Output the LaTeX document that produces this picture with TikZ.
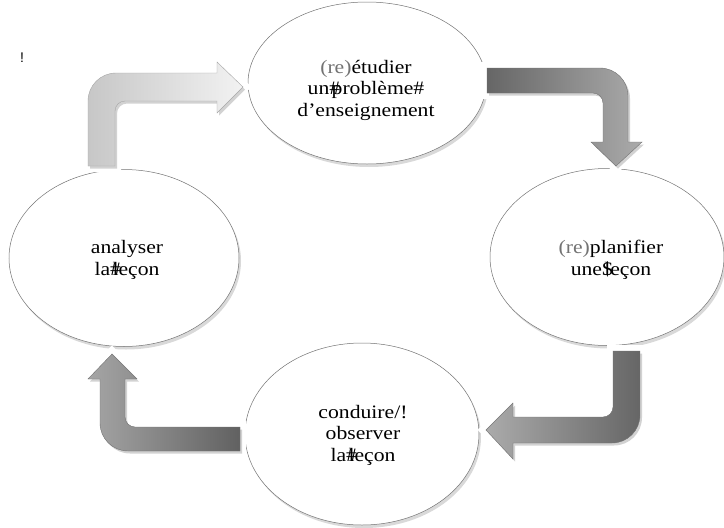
\documentclass[tikz,border=0pt]{standalone}
\usepackage{fontspec}
\setmainfont{Liberation Serif}[FakeStretch=1.14]
\newfontfamily\marksans{Liberation Sans}
\usetikzlibrary{shapes.geometric, shadows}

\tikzstyle{stage} = [ellipse, draw=black!55, line width=0.5pt, fill=white, drop shadow={shadow xshift=2pt, shadow yshift=-3pt, opacity=0.3}]
\tikzstyle{stagetext} = [align=center, inner sep=0pt, font=\fontsize{19}{21.5}\selectfont]
\tikzstyle{block} = [line width=0.4pt, preaction={draw=white, line width=12pt}, drop shadow={shadow xshift=2pt, shadow yshift=-2.5pt, opacity=0.35}]
\newcommand{\regray}{\textcolor{black!55}{(re)}}
\newcommand{\overglyph}[1]{\makebox[0.12em][l]{#1}}

\begin{document}
\begin{tikzpicture}[x=1pt, y=-1pt]
\useasboundingbox (0,0) rectangle (724,528);

\node (0) [stage, minimum width=238pt, minimum height=162pt] at (367,83) {};
\node (1) [stage, minimum width=234pt, minimum height=177pt] at (607,257) {};
\node (2) [stage, minimum width=234pt, minimum height=182pt] at (362,434) {};
\node (3) [stage, minimum width=230pt, minimum height=177pt] at (124,258) {};

\node (0t) [stagetext] at (366,90) {\regray étudier\\un\overglyph{\#}problème\#\\d’enseignement};
\node (1t) [stagetext] at (611,260) {\regray planifier\\une\overglyph{\$}leçon};
\node (2t) [stagetext] at (363,435) {conduire/!\\observer\\la\overglyph{\#}leçon};
\node (3t) [stagetext] at (127,260) {analyser\\la\overglyph{\#}leçon};

\node (mark) at (22,58) {\marksans\fontsize{14}{16}\selectfont !};

\draw [block, left color=black!22, right color=black!5, draw=black!35] (88,166) -- (88,101) arc[start angle=180, end angle=270, radius=28] -- (217,73) -- (217,62) -- (243,87) -- (217,113) -- (217,101) -- (125,101) arc[start angle=270, end angle=180, radius=10] -- (115,166) -- cycle;
\draw [block, left color=black!60, right color=black!33, draw=black!55] (487,68) -- (600,68) arc[start angle=270, end angle=360, radius=28] -- (628,142) -- (642,142) -- (616,166) -- (591,142) -- (603,142) -- (603,103) arc[start angle=0, end angle=-90, radius=10] -- (487,93) -- cycle;
\draw [block, left color=black!33, right color=black!60, draw=black!55] (613,351) -- (640,351) -- (640,415) arc[start angle=0, end angle=90, radius=28] -- (513,443) -- (513,459) -- (486,430) -- (513,403) -- (513,417) -- (603,417) arc[start angle=90, end angle=0, radius=10] -- cycle;
\draw [block, left color=black!35, right color=black!62, draw=black!55] (240,427) -- (240,451) -- (128,451) arc[start angle=90, end angle=180, radius=28] -- (100,379) -- (88,379) -- (112,354) -- (137,379) -- (125,379) -- (125,417) arc[start angle=180, end angle=90, radius=10] -- cycle;

\end{tikzpicture}
\end{document}
